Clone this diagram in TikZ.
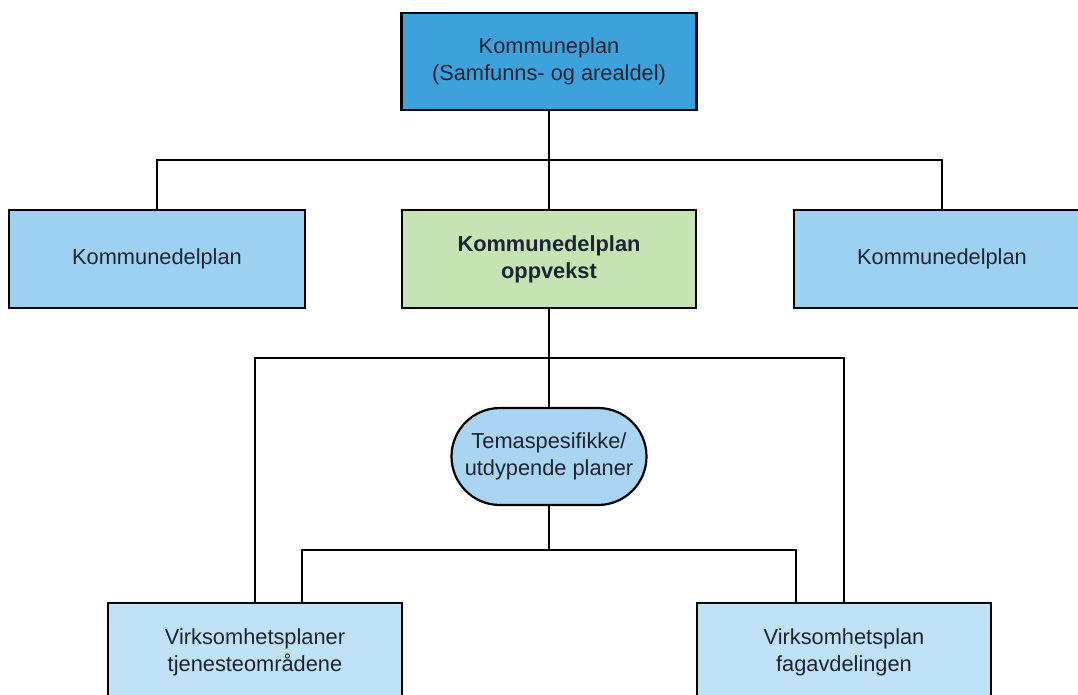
\documentclass[tikz,border=0pt]{standalone}
\usepackage{fontspec}
\setmainfont{Liberation Sans}
\usetikzlibrary{shapes.misc}
\definecolor{topblue}{HTML}{3DA2DC}
\definecolor{midblue}{HTML}{9DD1F1}
\definecolor{lightblue}{HTML}{C0E2F6}
\definecolor{themeblue}{HTML}{A9D5F2}
\definecolor{boxgreen}{HTML}{C6E4B3}
\definecolor{txt}{HTML}{1A2433}
\tikzset{
  box/.style={draw=black, line width=2.2pt, rectangle, align=center, text=txt,
    font=\fontsize{21.8}{27}\selectfont, inner sep=0pt},
  conn/.style={draw=black, line width=2.2pt},
}
\begin{document}
\begin{tikzpicture}[x=1pt,y=-1pt]
\useasboundingbox (0,0) rectangle (1078,695);
\begin{scope}
\clip (0,0) rectangle (1078,695);
\node[box, fill=topblue, minimum width=295, minimum height=97] (top) at (549,61.5)
  {Kommuneplan\\(Samfunns- og arealdel)};
\node[box, fill=midblue, minimum width=296, minimum height=98] (left) at (157,259) {Kommunedelplan};
\node[box, fill=boxgreen, minimum width=294, minimum height=98, font=\fontsize{21.8}{27}\selectfont\bfseries] (mid) at (549,259)
  {Kommunedelplan\\oppvekst};
\node[box, fill=midblue, minimum width=296, minimum height=98] (right) at (942,259) {Kommunedelplan};
\node[box, rounded rectangle, fill=themeblue, minimum width=195, minimum height=97] (theme) at (549,456.5)
  {Temaspesifikke/\\utdypende planer};
\node[box, fill=lightblue, minimum width=294, minimum height=98] (bl) at (255,652)
  {Virksomhetsplaner\\tjenesteområdene};
\node[box, fill=lightblue, minimum width=294, minimum height=98] (br) at (844,652)
  {Virksomhetsplan\\fagavdelingen};
\end{scope}
% first level connectors
\coordinate (bus1) at (549,160);
\draw[conn] (top.south) -- (bus1);
\draw[conn] (left.north) |- (bus1) -| (right.north);
\draw[conn] (mid.north) -- (bus1);
% second level
\coordinate (bus2) at (549,358);
\draw[conn] (mid.south) -- (theme.north);
\draw[conn] (bl.north) |- (bus2) -| (br.north);
% third level
\coordinate (bus3) at (549,550);
\draw[conn] (theme.south) -- (bus3);
\draw[conn] ([xshift=47pt]bl.north) |- (bus3) -| ([xshift=-48pt]br.north);
\end{tikzpicture}
\end{document}
